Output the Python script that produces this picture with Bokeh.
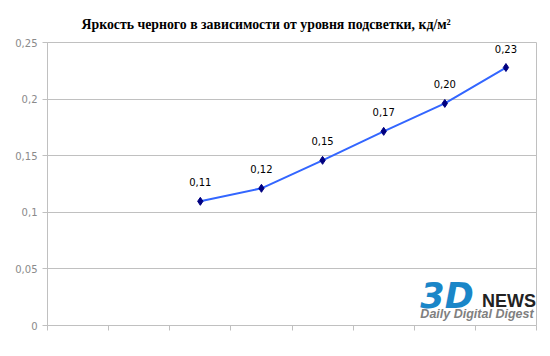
from bokeh.plotting import figure
from bokeh.models import FixedTicker, Range1d, Label, Title, ColumnDataSource, CustomJSTickFormatter
from bokeh.embed import file_html
from bokeh.resources import INLINE

# ---- data ----
category_index = [0, 1, 2, 3, 4, 5, 6, 7]
values = [None, None, 0.1097, 0.1212, 0.1459, 0.1715, 0.1962, 0.2279]
value_labels = [None, None, "0,11", "0,12", "0,15", "0,17", "0,20", "0,23"]
y_ticks = [0, 0.05, 0.1, 0.15, 0.2, 0.25]
y_tick_labels = ["0", "0,05", "0,1", "0,15", "0,2", "0,25"]
title_text = "Яркость черного в зависимости от уровня подсветки, кд/м²"

xs = [c + 0.5 for c, v in zip(category_index, values) if v is not None]
ys = [v for v in values if v is not None]
labs = [l for l, v in zip(value_labels, values) if v is not None]
src = ColumnDataSource(dict(x=xs, y=ys, lab=labs))

p = figure(width=550, height=356, output_backend="svg", toolbar_location=None,
           x_range=Range1d(0, len(category_index)), y_range=Range1d(0, 0.25),
           min_border_left=47, min_border_right=14, min_border_top=42, min_border_bottom=31)
p.title = None
t = Title(text=title_text, align="left", offset=34, text_font="Liberation Serif", text_font_style="bold",
          text_font_size="13.8px", text_color="#000000", standoff=22)
p.add_layout(t, "above")

grid_col = "#c0c0c0"
p.background_fill_color = "white"
p.border_fill_color = "white"
p.outline_line_color = grid_col

p.xgrid.visible = False
p.ygrid.ticker = FixedTicker(ticks=y_ticks)
p.ygrid.grid_line_color = grid_col

p.xaxis.ticker = FixedTicker(ticks=list(range(len(category_index) + 1)))
p.xaxis.formatter = CustomJSTickFormatter(code="return '';")
p.xaxis.axis_line_color = grid_col
p.xaxis.major_tick_line_color = grid_col
p.xaxis.major_tick_in = 0
p.xaxis.major_tick_out = 5
p.xaxis.minor_tick_line_color = None

p.yaxis.ticker = FixedTicker(ticks=y_ticks)
p.yaxis.major_label_overrides = {t_: l for t_, l in zip(y_ticks, y_tick_labels)}
p.yaxis.axis_line_color = grid_col
p.yaxis.major_tick_line_color = grid_col
p.yaxis.major_tick_in = 0
p.yaxis.major_tick_out = 5
p.yaxis.minor_tick_line_color = None
p.yaxis.major_label_standoff = 5
p.yaxis.major_label_text_font = "DejaVu Sans"
p.yaxis.major_label_text_font_size = "10px"
p.yaxis.major_label_text_color = "#8a8a8a"

p.line("x", "y", source=src, line_color="#3366ff", line_width=2)
p.scatter("x", "y", source=src, marker="diamond", size=8, color="#000080")
p.text("x", "y", text="lab", source=src, text_align="center", text_baseline="bottom",
       y_offset=-15, text_font_size="10px", text_color="#000000",
       text_font={"value": "DejaVu Sans"})

# watermark logo
p.add_layout(Label(x=6.1, y=0.0265, text="3D", text_font="DejaVu Sans", text_font_style="bold italic",
                   text_font_size="35px", text_color="#1a86c8", text_baseline="middle"))
p.add_layout(Label(x=7.11, y=0.022, text="NEWS", text_font="Liberation Sans", text_font_style="bold",
                   text_font_size="18px", text_color="#222222", text_baseline="middle"))
p.add_layout(Label(x=6.1, y=0.0101, text="Daily Digital Digest", text_font="Liberation Sans",
                   text_font_style="bold italic", text_font_size="12.5px", text_color="#808080",
                   text_baseline="middle"))

open("out.html", "w").write(file_html(p, INLINE))
